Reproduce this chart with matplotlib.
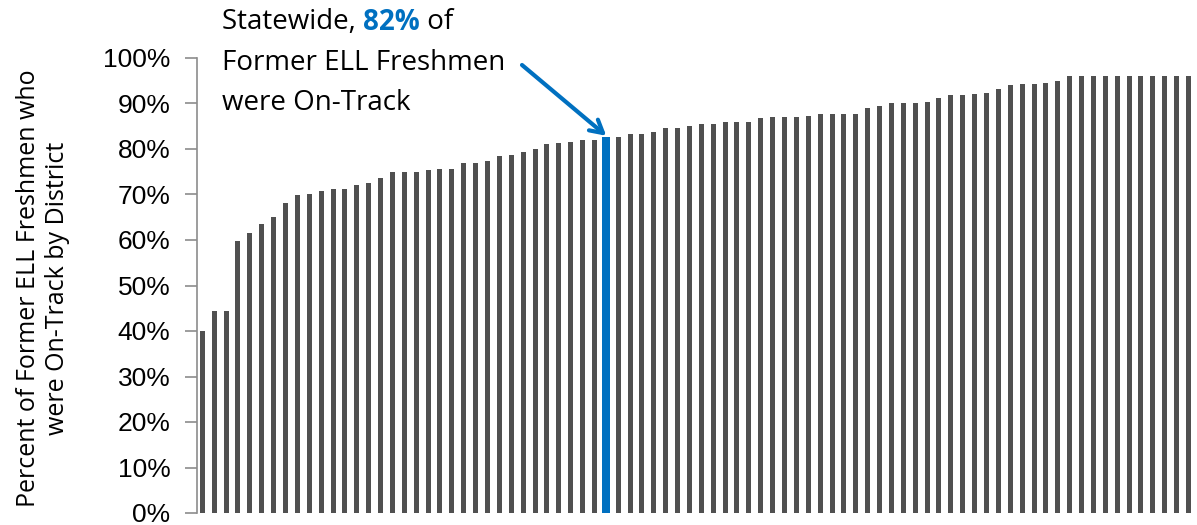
import matplotlib
matplotlib.use("Agg")
import matplotlib.pyplot as plt
from matplotlib.ticker import PercentFormatter

values = [40.0, 44.5, 44.5, 59.8, 61.6, 63.5, 65.0, 68.1, 69.9, 70.1, 70.8, 71.3, 71.3, 72.0,
          72.6, 73.6, 74.9, 75.0, 75.0, 75.4, 75.5, 75.6, 76.9, 76.9, 77.3, 78.5, 78.7, 79.4,
          80.1, 81.0, 81.3, 81.6, 81.9, 81.9, 82.6, 82.7, 83.3, 83.3, 83.7, 84.7, 84.7, 85.1,
          85.6, 85.6, 85.9, 85.9, 85.9, 86.8, 87.1, 87.1, 87.1, 87.2, 87.6, 87.6, 87.6, 87.6,
          89.0, 89.4, 90.1, 90.1, 90.1, 90.4, 91.2, 91.8, 91.8, 92.1, 92.2, 93.2, 94.0, 94.2,
          94.3, 94.6, 94.9, 96.0, 96.0, 96.0, 96.0, 96.0, 96.0, 96.0, 96.0, 96.0, 96.0, 96.0]
highlight_index = 34
statewide_label = "82%"
y_ticks = [0, 10, 20, 30, 40, 50, 60, 70, 80, 90, 100]

GRAY = "#505050"
BLUE = "#0070C0"

fig = plt.figure(figsize=(11.97, 5.25), dpi=100)
ax = fig.add_axes([197/1197, 1 - 513/525, (1195-197)/1197, (513-58)/525])

x = list(range(len(values)))
colors = [BLUE if i == highlight_index else GRAY for i in x]
widths = [0.65 if i == highlight_index else 0.42 for i in x]
ax.bar(x, values, width=widths, color=colors, edgecolor="none", zorder=3)

ax.set_ylim(0, 100)
ax.set_xlim(-0.45, len(values) - 1 + 0.55)
ax.set_yticks(y_ticks)
ax.yaxis.set_major_formatter(PercentFormatter(decimals=0))
ax.tick_params(axis="y", labelsize=19, length=9, width=1.2, color="#8c8c8c", pad=10,
               labelcolor="black")
for lab in ax.get_yticklabels():
    lab.set_family("Liberation Sans")
ax.set_xticks([])
for s in ["top", "right", "bottom"]:
    ax.spines[s].set_visible(False)
ax.spines["left"].set_color("#8c8c8c")
ax.spines["left"].set_linewidth(1.2)

fig.text(43/1197, 1 - 288/525, "Percent of Former ELL Freshmen who\nwere On-Track by District",
         rotation=90, ha="center", va="center", fontsize=18, family="Open Sans",
         linespacing=1.2)

# annotation text
fs = 20
fam = "Open Sans"
y1 = 1 - 22/525
t1 = fig.text(222/1197, y1, "Statewide, ", fontsize=fs, family=fam, va="center", ha="left")
fig.canvas.draw()
r = fig.canvas.get_renderer()
bb = t1.get_window_extent(r)
t2 = fig.text(bb.x1 / 1197, y1, statewide_label, fontsize=fs, family=fam, va="center",
              ha="left", color=BLUE, weight="bold")
bb2 = t2.get_window_extent(r)
fig.text(bb2.x1 / 1197, y1, " of", fontsize=fs, family=fam, va="center", ha="left")
fig.text(222/1197, 1 - 63/525, "Former ELL Freshmen", fontsize=fs, family=fam, va="center", ha="left")
fig.text(222/1197, 1 - 103/525, "were On-Track", fontsize=fs, family=fam, va="center", ha="left")

ax.annotate("", xy=(highlight_index, values[highlight_index] + 0.3),
            xytext=(522/1197, 1 - 65/525), textcoords="figure fraction",
            arrowprops=dict(arrowstyle="->,head_length=0.9,head_width=0.5", color=BLUE, lw=3,
                            shrinkA=0, shrinkB=0))

fig.savefig("out.png", dpi=100)
